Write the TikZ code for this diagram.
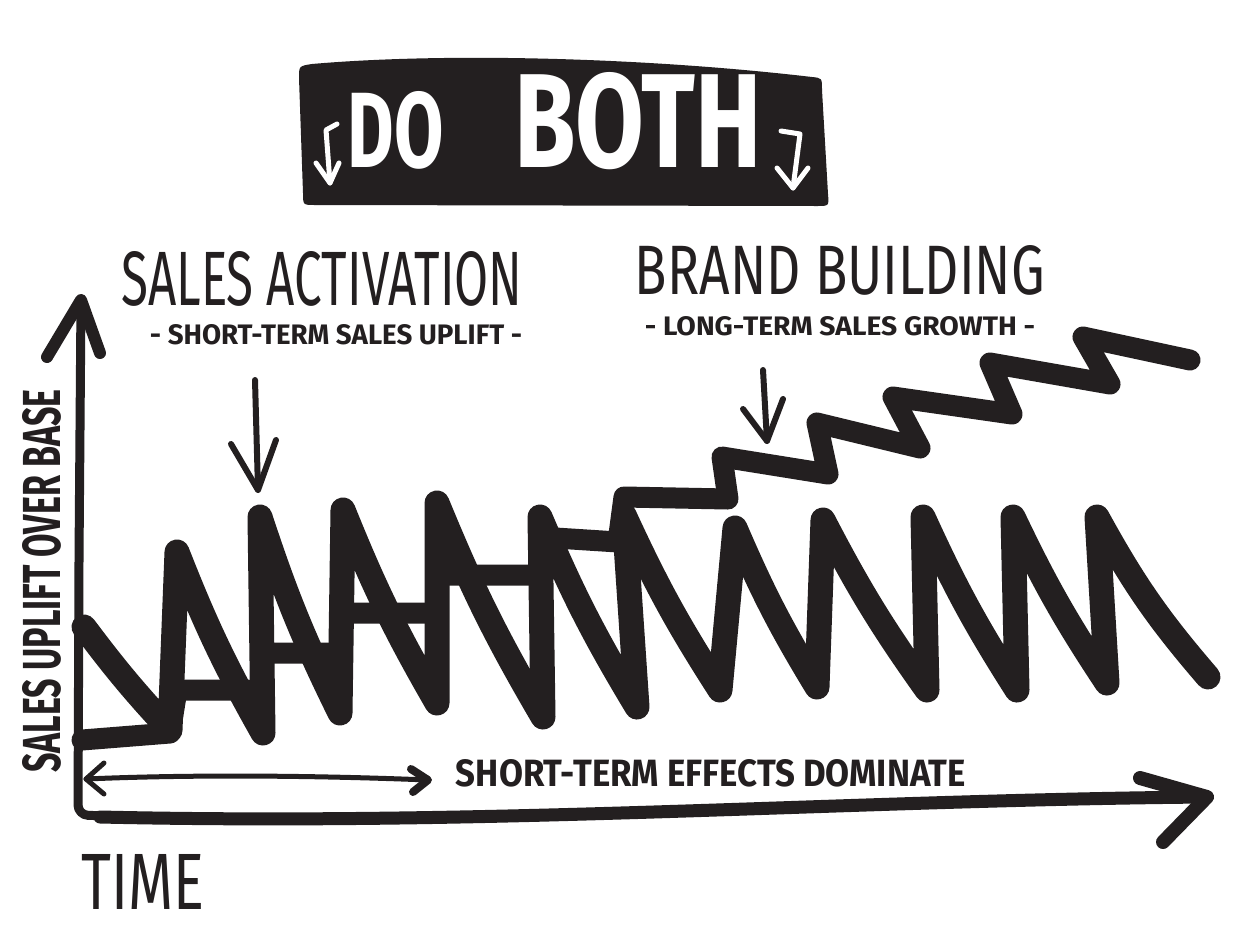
\documentclass[tikz,border=0pt]{standalone}
\usepackage{fontspec}
\setmainfont{Fira Sans}
\usetikzlibrary{arrows.meta}
\definecolor{ink}{RGB}{35,31,32}
\begin{document}
\begin{tikzpicture}[x=1pt,y=-1pt,
  spike/.style={draw=ink, line width=25pt, line cap=round, line join=round},
  basestroke/.style={draw=ink, line width=21pt, line cap=round, line join=round},
  pen/.style={draw=ink, line width=6pt, line cap=round, line join=round},
  axisstroke/.style={draw=ink, line cap=round, line join=round},
  whitepen/.style={draw=white, line width=5pt, line cap=round, line join=round},
  lbl/.style={inner sep=0pt, outer sep=0pt, text=ink}]
\useasboundingbox (0,0) rectangle (1235,946);
\fill[white] (0,0) rectangle (1235,946);

% title banner
\fill[ink] (299,78) .. controls (299,66) .. (312,64) .. controls (450,52) and (650,58) .. (812,77)
  .. controls (822,78) .. (822,90) -- (828,194) .. controls (829,206) .. (817,206)
  -- (315,205) .. controls (303,205) .. (303,193) -- cycle;
\node[lbl, text=white] (do) at (396,130) {\resizebox{96pt}{76pt}{\bfseries DO}};
\node[lbl, text=white] (both) at (638,121) {\resizebox{247pt}{95pt}{\bfseries BOTH}};
\coordinate (tl1) at (337,124); \coordinate (tl2) at (326,130); \coordinate (tl3) at (330,183);
\draw[whitepen] (tl1) -- (tl2) -- (tl3);
\draw[whitepen] (316,163) -- (tl3) -- (339,163);
\coordinate (tr1) at (781,131); \coordinate (tr2) at (800,134); \coordinate (tr3) at (793,188);
\draw[whitepen] (tr1) -- (tr2) -- (tr3);
\draw[whitepen] (777,168) -- (tr3) -- (808,168);

% headings
\node[lbl] (sa) at (322,279) {\resizebox{401pt}{54pt}{SALES ACTIVATION}};
\node[lbl] (sasub) at (336,335) {\resizebox{372pt}{20pt}{\bfseries - SHORT-TERM SALES UPLIFT -}};
\node[lbl] (bb) at (840,270) {\resizebox{410pt}{49pt}{BRAND BUILDING}};
\node[lbl] (bbsub) at (840,326) {\resizebox{390pt}{19pt}{\bfseries - LONG-TERM SALES GROWTH -}};

% pointer arrows
\coordinate (saA) at (255,380); \coordinate (saB) at (258,490);
\draw[pen] (saA) -- (saB);
\draw[pen] (231,444) -- (saB) -- (276,440);
\coordinate (bbA) at (763,370); \coordinate (bbB) at (767,441);
\draw[pen] (bbA) -- (bbB);
\draw[pen] (743,409) -- (bbB) -- (783,399);

% axes
\coordinate (ytip) at (81,300);
\coordinate (origin) at (78,815);
\coordinate (xtip) at (1207,797);
\draw[axisstroke, line width=9pt, rounded corners=10pt] (ytip) -- (79,560) -- (origin) -- (140,817);
\draw[axisstroke, line width=12pt] (47,357) -- (ytip) -- (100,353);
\draw[axisstroke, line width=13pt] (100,817) .. controls (500,826) and (850,800) .. (xtip);
\draw[axisstroke, line width=14pt] (1140,778) -- (xtip) -- (1163,842);

% axis labels
\node[lbl, rotate=90] (ylab) at (42,581) {\resizebox{383pt}{38pt}{\bfseries SALES UPLIFT OVER BASE}};
\node[lbl] (time) at (143,882) {\resizebox{123pt}{55pt}{TIME}};

% short-term span arrow
\coordinate (spL) at (86,779); \coordinate (spR) at (428,780);
\draw[axisstroke, line width=5pt] (spL) .. controls (200,774) and (330,776) .. (spR);
\draw[axisstroke, line width=5pt] (104,763) -- (spL) -- (104,794);
\draw[axisstroke, line width=8pt] (411,769) -- (spR) -- (413,792);
\node[lbl] (stlab) at (711,773) {\resizebox{510pt}{27pt}{\bfseries SHORT-TERM EFFECTS DOMINATE}};

% stepped base line and brand-building staircase
\draw[basestroke] (82,740) -- (170,733) -- (177,690) -- (262,690) -- (261,653) -- (342,653)
  -- (342,613) -- (437,613) -- (437,575) -- (540,575) -- (540,537) -- (618,542)
  -- (624,497) -- (728,499) -- (722,457) -- (828,474) -- (817,423) -- (920,448)
  -- (893,397) -- (1012,414) -- (990,363) -- (1110,384) -- (1083,337) -- (1190,360);

% sales activation spikes
\draw[spike] (84,627) to[bend right=3] (170,730) -- (177,552) to[bend right=4] (263,733)
  -- (260,517) to[bend right=4] (340,713) -- (343,510) to[bend right=4] (437,703)
  -- (437,503) to[bend right=4] (543,717) -- (540,517) to[bend right=4] (637,707)
  -- (624,515) to[bend right=4] (720,690) -- (735,528) to[bend right=4] (817,687)
  -- (823,520) to[bend right=4] (927,690) -- (923,517) to[bend right=4] (1017,690)
  -- (1013,517) to[bend right=4] (1107,683) -- (1097,517) to[bend right=6] (1208,677);
\end{tikzpicture}
\end{document}
